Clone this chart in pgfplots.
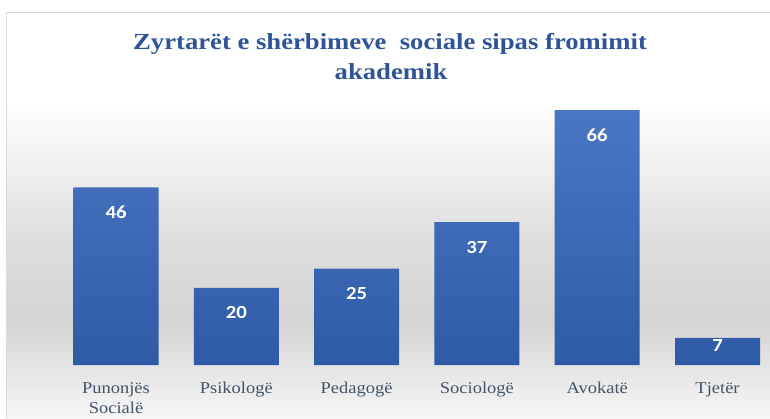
\documentclass[border=0pt]{standalone}
\usepackage{pgfplots}
\pgfplotsset{compat=1.18}
\usepackage{fontspec}
\newfontfamily\titlefont{Liberation Serif}[FakeStretch=1.16]
\newfontfamily\labfont{Liberation Serif}[FakeStretch=1.12]
\newfontfamily\numfont{Carlito}[FakeStretch=1.12]
\definecolor{titleblue}{HTML}{2F5597}
\definecolor{labgray}{HTML}{44546A}
\definecolor{bartop}{HTML}{4A76C4}
\definecolor{barbot}{HTML}{2F5AA6}
\definecolor{bgmid}{HTML}{D4D4D4}
\definecolor{bgmid2}{HTML}{DEDEDE}
\definecolor{bgbot}{HTML}{F6F6F6}
\definecolor{framecol}{HTML}{D9D9D9}
\pgfdeclareverticalshading{bgshade}{100bp}{color(0bp)=(bgbot); color(25bp)=(bgbot); color(37bp)=(bgmid); color(47bp)=(bgmid2); color(64bp)=(white); color(100bp)=(white)}
\pgfplotstableread{
x y off
0 46 -25
1 20 -25
2 25 -25
3 37 -25
4 66 -25
5 7 -8
}\datatable
\begin{document}
\begin{tikzpicture}[x=1pt,y=1pt]
\path[use as bounding box, fill=white] (0,0) rectangle (770,418);
\shade[shading=bgshade] (6,0) rectangle (770,406);
\draw[framecol, line width=1pt] (6.5,0) -- (6.5,405.5) -- (770,405.5);
\node[anchor=base, text=titleblue, font=\titlefont\bfseries\fontsize{23}{30}\selectfont] at (390,368) {Zyrtarët e shërbimeve\ \ sociale sipas fromimit};
\node[anchor=base, text=titleblue, font=\titlefont\bfseries\fontsize{23}{30}\selectfont] at (391,338) {akademik};
\begin{axis}[
  at={(55.85pt,53pt)}, anchor=south west,
  scale only axis, width=709.8pt, height=270.2pt,
  xmin=-0.5, xmax=5.4, ymin=0, ymax=70,
  axis line style={draw=none},
  major tick length=0pt,
  ytick=\empty,
  xtick=data,
  xticklabels={{Punonjës\\Socialë},Psikologë,Pedagogë,Sociologë,Avokatë,Tjetër},
  xticklabel style={font=\labfont\fontsize{16.5}{20.5}\selectfont, text=labgray, align=center, anchor=north, yshift=-14pt},
  clip=false,
  /pgf/number format/assume math mode=true,
]
\addplot[ybar, bar width=85pt, draw=none, top color=bartop, bottom color=barbot,
  visualization depends on={\thisrow{off} \as \myoff},
  nodes near coords,
  every node near coord/.append style={anchor=center, yshift=\myoff pt, text=white, font=\numfont\bfseries\fontsize{18.5}{20}\selectfont},
] table[x=x, y=y] {\datatable};
\end{axis}
\end{tikzpicture}
\end{document}
